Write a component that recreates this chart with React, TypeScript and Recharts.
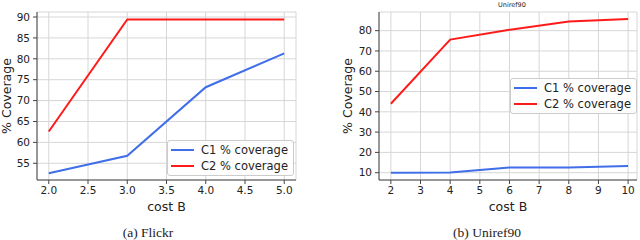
import React from 'react';
import {
  LineChart,
  Line,
  XAxis,
  YAxis,
  CartesianGrid,
  Legend,
} from 'recharts';

// Flickr panel
const flickrCost = [2, 3, 4, 5];
const flickrC1 = [52.6, 56.8, 73.2, 81.3];
const flickrC2 = [62.6, 89.4, 89.4, 89.4];
const flickrXTicks = [2, 2.5, 3, 3.5, 4, 4.5, 5];
const flickrYTicks = [55, 60, 65, 70, 75, 80, 85, 90];

// Uniref90 panel
const unirefCost = [2, 4, 6, 8, 10];
const unirefC1 = [10, 10.1, 12.6, 12.6, 13.3];
const unirefC2 = [44, 75.6, 80.4, 84.5, 85.7];
const unirefXTicks = [2, 3, 4, 5, 6, 7, 8, 9, 10];
const unirefYTicks = [10, 20, 30, 40, 50, 60, 70, 80];

const seriesNames = ['C1 % coverage', 'C2 % coverage'];
const seriesColors = ['#3f6ee8', '#ff1a1a'];

const toRows = (xs: number[], c1: number[], c2: number[]) =>
  xs.map((x, i) => ({ cost: x, c1: c1[i], c2: c2[i] }));

const SANS = '"DejaVu Sans", sans-serif';
const tickStyle = { fontSize: 10.5, fill: '#222', fontFamily: SANS };
const axisColor = '#444';

const LegendBox = (props: any) => {
  const items = props.payload || [];
  return (
    <div
      style={{
        background: 'rgba(255,255,255,0.85)',
        border: '1px solid #ccc',
        borderRadius: 3,
        padding: '1px 5px 1px 3px',
        fontFamily: SANS,
        fontSize: 11.5,
        color: '#222',
        whiteSpace: 'nowrap',
      }}
    >
      {items.map((it: any) => (
        <div key={it.value} style={{ display: 'flex', alignItems: 'center', height: 16 }}>
          <span
            style={{
              display: 'inline-block',
              width: 23,
              height: 2,
              background: it.color,
              marginRight: 7,
            }}
          />
          <span>{it.value}</span>
        </div>
      ))}
    </div>
  );
};

interface PanelProps {
  rows: { cost: number; c1: number; c2: number }[];
  xDomain: [number, number];
  yDomain: [number, number];
  xTicks: number[];
  yTicks: number[];
  yAxisWidth: number;
  rightMargin: number;
  yLabelOffset: number;
  legendPos: { left: number; top: number };
  xFmt: (v: number) => string;
}

const Panel: React.FC<PanelProps> = ({
  rows,
  xDomain,
  yDomain,
  xTicks,
  yTicks,
  yAxisWidth,
  rightMargin,
  yLabelOffset,
  legendPos,
  xFmt,
}) => (
  <LineChart
    width={320}
    height={240}
    data={rows}
    margin={{ top: 12, right: rightMargin, bottom: 0, left: 0 }}
  >
    <CartesianGrid stroke="#d6d6d6" strokeWidth={1} />
    <XAxis
      dataKey="cost"
      type="number"
      domain={xDomain}
      ticks={xTicks}
      interval={0}
      tickFormatter={xFmt}
      allowDataOverflow
      height={60}
      tick={tickStyle}
      tickSize={4}
      tickMargin={3}
      stroke={axisColor}
      label={{
        value: 'cost B',
        position: 'insideBottom',
        offset: 29,
        style: { fontSize: 12.5, fill: '#222', fontFamily: SANS },
      }}
    />
    <XAxis
      xAxisId="top"
      orientation="top"
      type="number"
      domain={xDomain}
      allowDataOverflow
      height={0}
      tick={false}
      tickLine={false}
      stroke={axisColor}
    />
    <YAxis
      type="number"
      domain={yDomain}
      ticks={yTicks}
      interval={0}
      allowDataOverflow
      width={yAxisWidth}
      tick={tickStyle}
      tickSize={4}
      tickMargin={3}
      stroke={axisColor}
      label={{
        value: '% Coverage',
        angle: -90,
        position: 'insideLeft',
        offset: yLabelOffset,
        style: { fontSize: 12.5, fill: '#222', fontFamily: SANS, textAnchor: 'middle' },
      }}
    />
    <YAxis
      yAxisId="right"
      orientation="right"
      type="number"
      domain={yDomain}
      allowDataOverflow
      width={0}
      tick={false}
      tickLine={false}
      stroke={axisColor}
    />
    <Line
      type="linear"
      dataKey="c1"
      name={seriesNames[0]}
      stroke={seriesColors[0]}
      strokeWidth={2}
      dot={false}
      isAnimationActive={false}
    />
    <Line
      type="linear"
      dataKey="c2"
      name={seriesNames[1]}
      stroke={seriesColors[1]}
      strokeWidth={2}
      dot={false}
      isAnimationActive={false}
    />
    <Legend
      layout="vertical"
      align="center"
      verticalAlign="middle"
      content={<LegendBox />}
      wrapperStyle={{ position: 'absolute', left: legendPos.left, top: legendPos.top, width: 'auto' }}
    />
  </LineChart>
);

const captionStyle: React.CSSProperties = {
  position: 'absolute',
  top: 225,
  width: 200,
  textAlign: 'center',
  fontFamily: '"Liberation Serif", serif',
  fontSize: 13.5,
  color: '#222',
  lineHeight: '16px',
};

const App: React.FC = () => (
  <div
    style={{
      position: 'absolute',
      left: 0,
      top: 0,
      width: 640,
      height: 240,
      background: '#fff',
      overflow: 'hidden',
    }}
  >
    <div style={{ position: 'absolute', left: 0, top: 0 }}>
      <Panel
        rows={toRows(flickrCost, flickrC1, flickrC2)}
        xDomain={[1.85, 5.15]}
        yDomain={[51, 91.2]}
        xTicks={flickrXTicks}
        yTicks={flickrYTicks}
        yAxisWidth={37}
        rightMargin={24}
        yLabelOffset={7}
        legendPos={{ left: 167, top: 140 }}
        xFmt={(v) => v.toFixed(1)}
      />
    </div>
    <div style={{ position: 'absolute', left: 320, top: 0 }}>
      <Panel
        rows={toRows(unirefCost, unirefC1, unirefC2)}
        xDomain={[1.6, 10.3]}
        yDomain={[6.4, 89.2]}
        xTicks={unirefXTicks}
        yTicks={unirefYTicks}
        yAxisWidth={59}
        rightMargin={3}
        yLabelOffset={28}
        legendPos={{ left: 190, top: 78 }}
        xFmt={(v) => String(v)}
      />
    </div>
    <div
      style={{
        position: 'absolute',
        left: 462,
        top: 0,
        width: 100,
        textAlign: 'center',
        fontFamily: SANS,
        fontSize: 6.5,
        color: '#222',
        lineHeight: '10px',
      }}
    >
      Uniref90
    </div>
    <div style={{ ...captionStyle, left: 48 }}>(a) Flickr</div>
    <div style={{ ...captionStyle, left: 387 }}>(b) Uniref90</div>
  </div>
);

export default App;
